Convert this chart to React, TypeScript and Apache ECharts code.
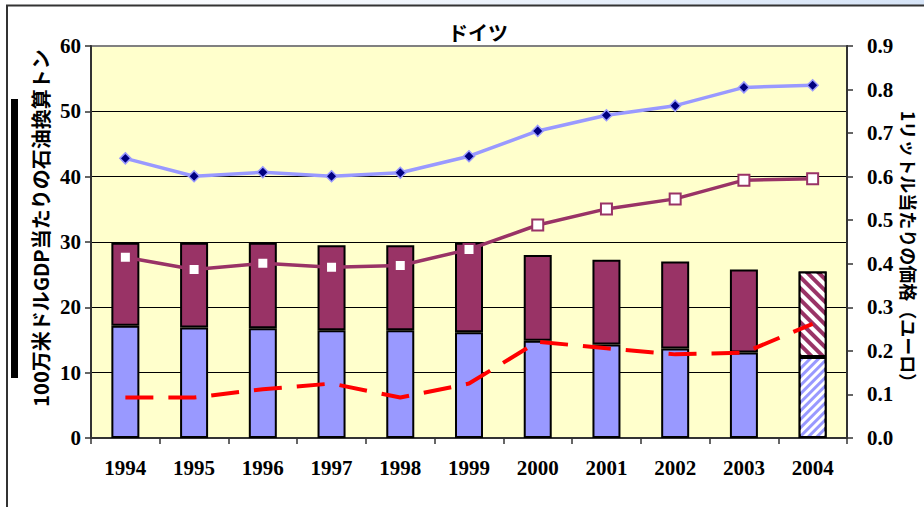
import React, { useEffect, useRef } from 'react';
import * as echarts from 'echarts';

const years = ['1994', '1995', '1996', '1997', '1998', '1999', '2000', '2001', '2002', '2003', '2004'];
const oilBlue = [17.2, 16.9, 16.8, 16.5, 16.5, 16.2, 14.9, 14.3, 13.7, 13.1, 12.4];
const oilMaroon = [12.7, 13.0, 13.1, 13.0, 13.0, 13.7, 13.1, 13.0, 13.3, 12.7, 13.1];
const priceBlue = [0.642, 0.601, 0.610, 0.601, 0.609, 0.647, 0.705, 0.741, 0.763, 0.805, 0.810];
const priceMaroon = [0.415, 0.387, 0.401, 0.392, 0.396, 0.433, 0.489, 0.526, 0.549, 0.592, 0.595];
const priceRed = [0.093, 0.093, 0.112, 0.125, 0.093, 0.125, 0.221, 0.206, 0.192, 0.196, 0.262];
const leftTicks = [0, 10, 20, 30, 40, 50, 60];
const rightTicks = [0, 0.1, 0.2, 0.3, 0.4, 0.5, 0.6, 0.7, 0.8, 0.9];

const titleText = 'ドイツ';
const leftTitle = '100万米ドルGDP当たりの石油換算トン';
const rightTitle = '1リットル当たりの価格（ユーロ）';

export default function App() {
  const ref = useRef<HTMLDivElement>(null);
  useEffect(() => {
    document.body.style.margin = '0';
    const chart = echarts.init(ref.current!, null, { renderer: 'svg' });
    const serif = "'Liberation Serif', 'Times New Roman', serif";
    const jp = "'Noto Sans CJK JP', sans-serif";
    const tickLabel = { fontFamily: serif, fontWeight: 'bold' as const, fontSize: 21, color: '#000' };
    const axisLine = { show: true, lineStyle: { color: '#333', width: 2 } };
    const axisTick = { show: true, length: 6, lineStyle: { color: '#333', width: 1.5 } };
    const last = years.length - 1;
    const blueData = oilBlue.map((v, i) =>
      i === last
        ? { value: v, itemStyle: { decal: { symbol: 'rect', symbolSize: 1, dashArrayX: [1, 0], dashArrayY: [3, 3], rotation: -Math.PI / 4, color: '#ffffff' } } }
        : v
    );
    const maroonData = oilMaroon.map((v, i) =>
      i === last
        ? { value: v, itemStyle: { decal: { symbol: 'rect', symbolSize: 1, dashArrayX: [1, 0], dashArrayY: [3.5, 3.5], rotation: Math.PI / 4, color: '#ffffff' } } }
        : v
    );
    chart.setOption({
      animation: false,
      backgroundColor: '#ffffff',
      grid: { left: 91, right: 77, top: 46, bottom: 69, show: true, backgroundColor: '#FFFFCC', borderColor: '#808080', borderWidth: 2 },
      xAxis: {
        type: 'category',
        data: years,
        axisLine,
        axisTick,
        axisLabel: { ...tickLabel, margin: 19 },
      },
      yAxis: [
        {
          type: 'value',
          min: leftTicks[0],
          max: leftTicks[leftTicks.length - 1],
          interval: 10,
          axisLine,
          axisTick,
          axisLabel: { ...tickLabel, margin: 10 },
          splitLine: { show: true, lineStyle: { color: ['#000', '#000', '#000', '#000', '#000', '#000', '#808080'], width: 1 } },
        },
        {
          type: 'value',
          position: 'right',
          min: rightTicks[0],
          max: rightTicks[rightTicks.length - 1],
          interval: 0.1,
          axisLine,
          axisTick,
          axisLabel: { ...tickLabel, margin: 20, formatter: (v: number) => v.toFixed(1) },
          splitLine: { show: false },
        },
      ],
      series: [
        {
          type: 'bar',
          stack: 'oil',
          data: blueData,
          barWidth: 28,
          itemStyle: { color: '#9999FF', borderColor: '#000', borderWidth: 2 },
        },
        {
          type: 'bar',
          stack: 'oil',
          data: maroonData,
          barWidth: 28,
          itemStyle: { color: '#993366', borderColor: '#000', borderWidth: 2 },
        },
        {
          type: 'line',
          yAxisIndex: 1,
          data: priceBlue,
          symbol: 'diamond',
          symbolSize: 11,
          lineStyle: { color: '#9999FF', width: 3.5 },
          itemStyle: { color: '#000080', borderColor: '#9999FF', borderWidth: 1.5 },
          z: 5,
        },
        {
          type: 'line',
          yAxisIndex: 1,
          data: priceMaroon,
          symbol: 'rect',
          symbolSize: 11,
          lineStyle: { color: '#993366', width: 3.5 },
          itemStyle: { color: '#ffffff', borderColor: '#993366', borderWidth: 2 },
          z: 5,
        },
        {
          type: 'line',
          yAxisIndex: 1,
          data: priceRed,
          symbol: 'none',
          lineStyle: { color: '#FF0000', width: 4, type: [28, 15] },
          z: 5,
        },
      ],
      graphic: [
        {
          type: 'rect',
          shape: { x: 0, y: 0, width: 924, height: 5 },
          style: {
            fill: new echarts.graphic.LinearGradient(0, 0, 1, 0, [
              { offset: 0, color: '#ffffff' },
              { offset: 0.4, color: '#f2f6fc' },
              { offset: 1, color: '#d6e4f7' },
            ]),
          },
          silent: true,
        },
        { type: 'line', shape: { x1: 6, y1: 5.5, x2: 924, y2: 5.5 }, style: { stroke: '#333', lineWidth: 2 } },
        { type: 'line', shape: { x1: 7, y1: 5, x2: 7, y2: 507 }, style: { stroke: '#333', lineWidth: 2 } },
        { type: 'rect', shape: { x: 11, y: 99, width: 7, height: 279 }, style: { fill: '#000' } },
        {
          type: 'text',
          x: 478,
          y: 32,
          style: { text: titleText, fontFamily: jp, fontWeight: 'bold', fontSize: 20, fill: '#000', align: 'center', verticalAlign: 'middle' },
        },
        {
          type: 'text',
          x: 40,
          y: 228,
          rotation: Math.PI / 2,
          style: { text: leftTitle, fontFamily: jp, fontWeight: 'bold', fontSize: 20, fill: '#000', align: 'center', verticalAlign: 'middle' },
        },
        {
          type: 'text',
          x: 909,
          y: 251,
          rotation: -Math.PI / 2,
          style: { text: rightTitle, fontFamily: jp, fontWeight: 'bold', fontSize: 18, fill: '#000', align: 'center', verticalAlign: 'middle' },
        },
      ],
    });
    return () => chart.dispose();
  }, []);
  return <div ref={ref} style={{ position: 'absolute', left: 0, top: 0, width: 924, height: 507 }} />;
}
